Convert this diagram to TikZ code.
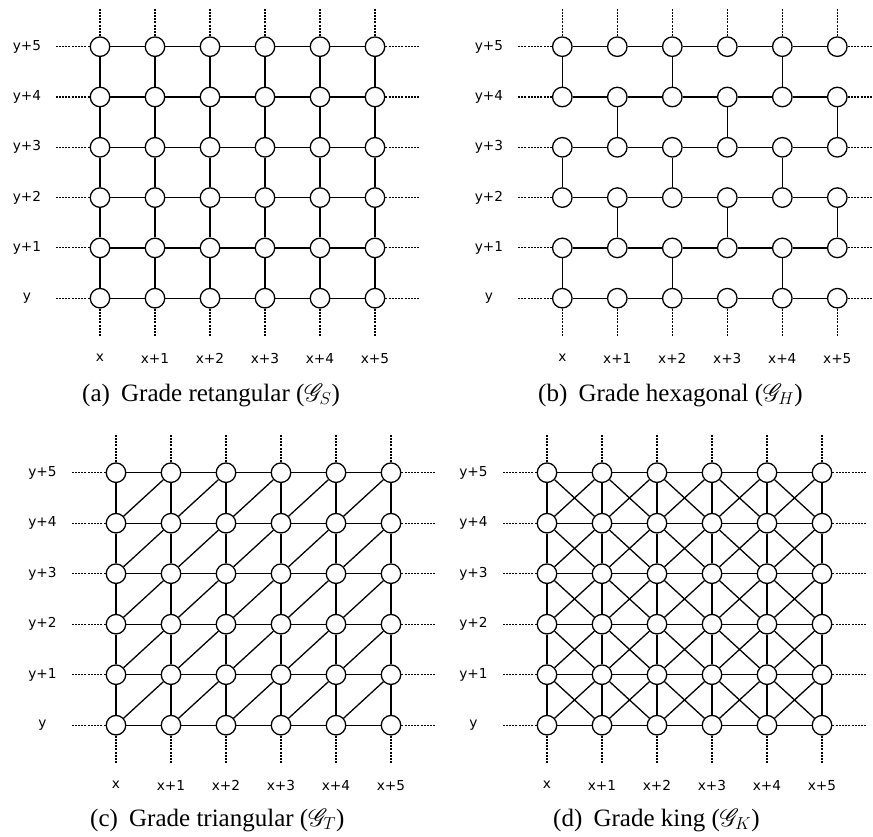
\documentclass[tikz,border=0pt]{standalone}
\usepackage{fontspec}
\usepackage{mathrsfs}
\setmainfont{Liberation Serif}
\newfontfamily\labfont{DejaVu Sans}
\tikzset{
  vtx/.style={circle, draw, fill=white, minimum size=19.5pt, inner sep=0pt, line width=1.3pt},
  edge/.style={line width=1.3pt},
  dotline/.style={line width=1.2pt, dash pattern=on 2pt off 1.2pt},
  lab/.style={font=\labfont\fontsize{13.7}{16}\selectfont, inner sep=0pt},
  capt/.style={font=\fontsize{25}{30}\selectfont, inner sep=0pt, anchor=base west}
}
% #1 name, #2 x0, #3 ytop, #4 label x, #5 dy
\newcommand\gridnodes[5]{%
  \foreach \c in {0,...,5}{%
    \foreach \r in {0,...,5}{%
      \node[vtx] (#1-\c-\r) at ({#2+55*\c},{#3+#5*(5-\r)}) {};
    }%
  }%
  \foreach \r in {0,...,5}{%
    \draw[dotline] (#1-0-\r.west) -- ++(-34,0);
    \draw[dotline] (#1-5-\r.east) -- ++(34,0);
  }%
  \foreach \c in {0,...,5}{%
    \draw[dotline] (#1-\c-5.north) -- ++(0,-27);
    \draw[dotline] (#1-\c-0.south) -- ++(0,28);
  }%
  \node[lab] (#1-ly0) at (#4,{#3+#5*5}) {y};
  \foreach \r in {1,...,5}{%
    \node[lab] (#1-ly\r) at (#4,{#3+#5*(5-\r)}) {y+\r};
  }%
  \node[lab] (#1-lx0) at (#2,{#3+#5*5+60}) {x};
  \foreach \c in {1,...,5}{%
    \node[lab] (#1-lx\c) at ({#2+55*\c},{#3+#5*5+60}) {x+\c};
  }%
}
\newcommand\horizedges[1]{%
  \foreach \c [evaluate=\c as \cn using int(\c+1)] in {0,...,4}{%
    \foreach \r in {0,...,5}{%
      \draw[edge] (#1-\c-\r) -- (#1-\cn-\r);
    }%
  }%
}
\newcommand\vertedges[1]{%
  \foreach \c in {0,...,5}{%
    \foreach \r [evaluate=\r as \rn using int(\r+1)] in {0,...,4}{%
      \draw[edge] (#1-\c-\r) -- (#1-\c-\rn);
    }%
  }%
}
\begin{document}
\begin{tikzpicture}[x=1pt,y=-1pt]
\useasboundingbox (0,0) rectangle (873,837);

% (a) square grid
\gridnodes{a}{100}{46.7}{27}{50.3}
\horizedges{a}
\vertedges{a}
\node[capt] (capa) at (82,401) {(a)\hspace{0.45em}Grade retangular ($\mathscr{G}_S$)};

% (b) hexagonal grid
\gridnodes{b}{562.3}{46.7}{489}{50.3}
\horizedges{b}
\foreach \c in {0,...,5}{%
  \foreach \r [evaluate=\r as \rn using int(\r+1)] in {0,...,4}{%
    \pgfmathtruncatemacro\s{\c+\r}
    \ifodd\s\else\draw[edge] (b-\c-\r) -- (b-\c-\rn);\fi
  }%
}
\node[capt] (capb) at (538,401) {(b)\hspace{0.45em}Grade hexagonal ($\mathscr{G}_H$)};

% (c) triangular grid
\gridnodes{c}{116}{472.7}{42.5}{50.5}
\horizedges{c}
\vertedges{c}
\foreach \c [evaluate=\c as \cn using int(\c+1)] in {0,...,4}{%
  \foreach \r [evaluate=\r as \rn using int(\r+1)] in {0,...,4}{%
    \draw[edge] (c-\c-\r) -- (c-\cn-\rn);
  }%
}
\node[capt] (capc) at (90,826) {(c)\hspace{0.45em}Grade triangular ($\mathscr{G}_T$)};

% (d) king grid
\gridnodes{d}{547}{472.7}{473.5}{50.5}
\horizedges{d}
\vertedges{d}
\foreach \c [evaluate=\c as \cn using int(\c+1)] in {0,...,4}{%
  \foreach \r [evaluate=\r as \rn using int(\r+1)] in {0,...,4}{%
    \draw[edge] (d-\c-\r) -- (d-\cn-\rn);
    \draw[edge] (d-\cn-\r) -- (d-\c-\rn);
  }%
}
\node[capt] (capd) at (553,826) {(d)\hspace{0.45em}Grade king ($\mathscr{G}_K$)};
\end{tikzpicture}
\end{document}
